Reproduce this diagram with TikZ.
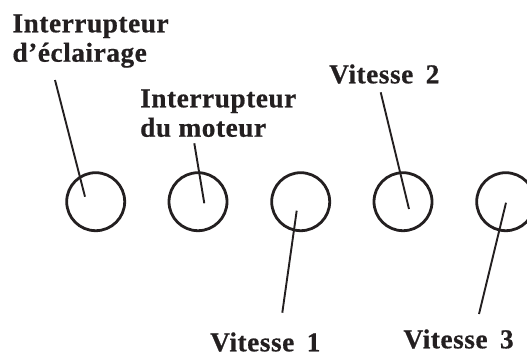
\documentclass[tikz,border=0pt]{standalone}
\usepackage{fontspec}
\setmainfont{Liberation Serif}[LetterSpace=2,BoldFeatures={FakeBold=0.6}]
\definecolor{ink}{HTML}{231F20}
\begin{document}
\begin{tikzpicture}[x=1pt,y=-1pt,
  knob/.style={circle,draw=ink,line width=2.8pt,minimum size=58pt,inner sep=0pt},
  lbl/.style={anchor=base west,inner sep=0pt,text depth=0pt,text=ink,font=\fontsize{27.3}{29.5}\selectfont\bfseries},
  lead/.style={draw=ink,line width=1.9pt}]
\useasboundingbox (0,0) rectangle (527,354);
\node[knob] (k1) at (95.7,201.7) {};
\node[knob] (k2) at (198,201.7) {};
\node[knob] (k3) at (300.7,201.7) {};
\node[knob] (k4) at (403,201.7) {};
\node[knob] (k5) at (505.7,201.7) {};
\node[lbl] (l1a) at (12.3,32.3) {Interrupteur};
\node[lbl] (l1b) at (12.3,61.7) {d’éclairage};
\node[lbl] (l2a) at (140,107.3) {Interrupteur};
\node[lbl] (l2b) at (140,136.7) {du moteur};
\node[lbl] (v2) at (329,83.3) {Vitesse\hspace{5pt} 2};
\node[lbl] (v1) at (210,351.3) {Vitesse\hspace{5pt} 1};
\node[lbl] (v3) at (403.3,348.3) {Vitesse\hspace{5pt} 3};
\coordinate (a1) at (55,80);   \coordinate (b1) at (85,196.7);
\coordinate (a2) at (194.3,143.3); \coordinate (b2) at (204.3,203.3);
\coordinate (a3) at (380.7,92.3); \coordinate (b3) at (409,209);
\coordinate (a4) at (282.3,312.7); \coordinate (b4) at (296.7,210.7);
\coordinate (a5) at (479,314); \coordinate (b5) at (506,202.7);
\draw[lead] (a1) -- (b1);
\draw[lead] (a2) -- (b2);
\draw[lead] (a3) -- (b3);
\draw[lead] (a4) -- (b4);
\draw[lead] (a5) -- (b5);
\end{tikzpicture}
\end{document}
